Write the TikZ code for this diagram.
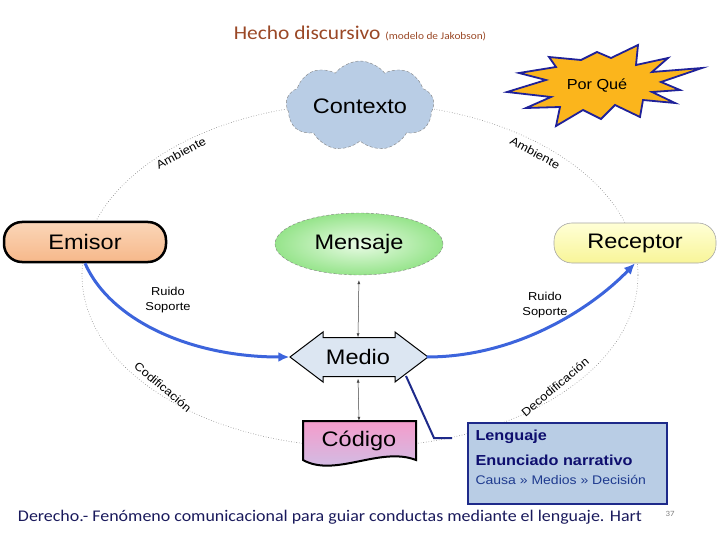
\documentclass[tikz,border=0pt]{standalone}
\usepackage{fontspec}
\setmainfont{Liberation Sans}[FakeStretch=1.12]
\newfontfamily\calib{Carlito}[FakeStretch=1.1]
\usetikzlibrary{shapes.geometric,shapes.symbols,arrows.meta}
\definecolor{titlered}{HTML}{9A4826}
\definecolor{flowblue}{HTML}{3C64DC}
\definecolor{linknavy}{HTML}{1E2A8A}
\definecolor{cloudblue}{HTML}{B9CDE5}
\definecolor{starfill}{HTML}{FBB51C}
\definecolor{starblue}{HTML}{1F2199}
\definecolor{mediofill}{HTML}{DCE6F2}
\definecolor{textnavy}{HTML}{0E0E6E}
\definecolor{causanavy}{HTML}{1F3B8F}
\definecolor{footnavy}{HTML}{1A1A5C}
\definecolor{emisortop}{HTML}{FBD6B8}
\definecolor{emisorbot}{HTML}{F6B88A}
\definecolor{mensajein}{HTML}{E9FBE5}
\definecolor{mensajeout}{HTML}{96E48B}
\definecolor{receptortop}{HTML}{FFFFD6}
\definecolor{receptorbot}{HTML}{F8F598}
\definecolor{codigotop}{HTML}{F59CCB}
\definecolor{codigobot}{HTML}{C9C4EA}

\begin{document}
\begin{tikzpicture}[x=1pt,y=-1pt,
  big/.style={font=\fontsize{21}{24}\selectfont},
  small/.style={font=\fontsize{11.5}{14.5}\selectfont,align=center},
  pill/.style={rectangle,rounded corners=18pt,minimum width=162pt,minimum height=40pt,big},
  blueflow/.style={draw=flowblue,line width=3pt,-{Latex[length=11pt,width=10pt]}},
  thinflow/.style={draw=black!75,line width=0.5pt,{Latex[length=4pt,width=3pt]}-{Latex[length=4pt,width=3pt]}}]
\useasboundingbox (0,0) rectangle (720,540);
\draw[gray,dotted,line width=0.6pt] (360,275) ellipse [x radius=278pt,y radius=172pt];
% title
\node[text=titlered] (title) at (360,33) {\calib\fontsize{19.5}{21}\selectfont Hecho discursivo \fontsize{10.3}{11}\selectfont(modelo de Jakobson)};
% por que
\draw[fill=starfill,draw=starblue,line width=1.8pt] (507,92) -- (546,80) -- (519,73) -- (556,67) -- (549,57) -- (581,60) -- (597,52) -- (611,58) -- (638,45) -- (636,65) -- (668,58) -- (652,72) -- (702,68) -- (661,82) -- (680,90) -- (652,92) -- (675,103) -- (643,100) -- (640,117) -- (615,105) -- (601,119) -- (583,110) -- (556,126) -- (560,107) -- (526,108) -- (551,97) -- cycle;
\node[font=\fontsize{14.5}{16}\selectfont] (porque) at (597,86) {Por Qué};
\node[cloud,cloud puffs=9,cloud puff arc=105,cloud ignores aspect,minimum width=148pt,minimum height=90pt,fill=cloudblue,draw=gray,densely dashed,big] (contexto) at (360,106) {Contexto};
\node[pill,draw=black,line width=2.5pt,top color=emisortop,bottom color=emisorbot] (emisor) at (85,242) {Emisor};
\node[ellipse,minimum width=168pt,minimum height=62pt,draw=gray,densely dashed,inner color=mensajein,outer color=mensajeout,big] (mensaje) at (359,244) {Mensaje};
\node[pill,draw=gray!70,line width=0.6pt,top color=receptortop,bottom color=receptorbot] (receptor) at (635,243) {Receptor};
% medio
\coordinate (m) at (358,357);
\draw[fill=mediofill,line width=1pt] (m) ++(-68,0) -- ++(33,-25) -- ++(0,5.5) -- ++(72,0) -- ++(0,-5.5) -- ++(33,25) -- ++(-33,25) -- ++(0,-5.5) -- ++(-72,0) -- ++(0,5.5) -- cycle;
\node[minimum width=137pt,minimum height=39pt,big] (medio) at (m) {Medio};
% codigo
\draw[top color=codigotop,bottom color=codigobot,line width=2pt] (303,421) -- (416,421) -- (416,460) .. controls (380,446) and (335,478) .. (303,460) -- cycle;
\node[minimum width=113pt,minimum height=40pt,big] (codigo) at (359,441) {Código};
% lenguaje
\node[draw=linknavy,fill=cloudblue,line width=1.8pt,minimum width=199pt,minimum height=81pt,anchor=north west] (lenguaje) at (467,422) {};
\node[anchor=west,text=textnavy,font=\bfseries\fontsize{14.5}{16}\selectfont] (len1) at (472,437) {Lenguaje};
\node[anchor=west,text=textnavy,font=\bfseries\fontsize{14.5}{16}\selectfont] (len2) at (472,460) {Enunciado narrativo};
\node[anchor=west,text=causanavy,font=\fontsize{12.5}{14}\selectfont] (len3) at (472,480) {Causa » Medios » Decisión};
% connectors
\draw[blueflow] (emisor.south) .. controls (110,320) and (190,357) .. (medio.west);
\draw[blueflow] (medio.east) .. controls (520,357) and (595,305) .. (receptor.south);
\draw[thinflow,shorten <=5pt] (mensaje.south) -- (medio.north);
\draw[thinflow,shorten <=2pt] (medio.south) -- (codigo.north);
\coordinate (lk) at (406,376); \coordinate (lkend) at (452,438);
\draw[linknavy,line width=2pt] (lk) -- (434,438) -- (lkend);
% labels
\node[small] (ruido1) at (168,300) {Ruido\\Soporte};
\node[small] (ruido2) at (545,305) {Ruido\\Soporte};
\node[small,rotate=28] (amb1) at (181,153) {Ambiente};
\node[small,rotate=-28] (amb2) at (535,153) {Ambiente};
\node[small,rotate=-40] (cod) at (163,387) {Codificación};
\node[small,rotate=40] (decod) at (555,387) {Decodificación};
% pie
\node[text=footnavy] (pie) at (330,517) {\calib\fontsize{16.3}{18}\selectfont Derecho.- Fenómeno comunicacional para guiar conductas mediante el lenguaje. Hart};
\node[text=gray] (num) at (670,514) {\calib\fontsize{8}{9}\selectfont 37};
\end{tikzpicture}
\end{document}
